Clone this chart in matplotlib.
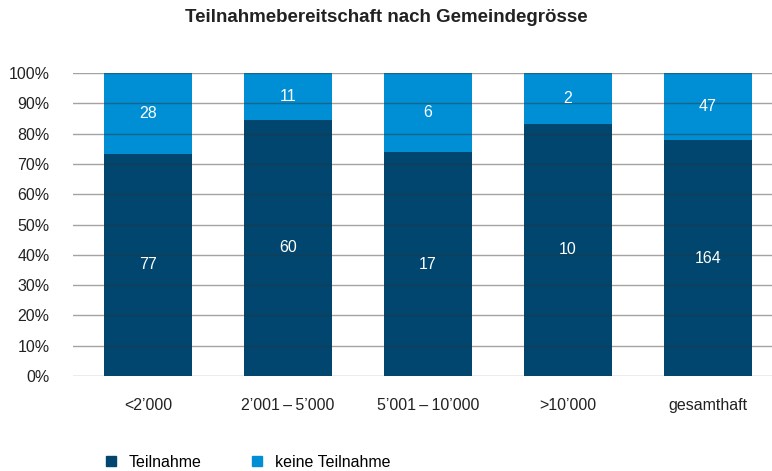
import numpy as np
import matplotlib.pyplot as plt
from matplotlib.lines import Line2D

plt.rcParams['font.family'] = ['Liberation Sans', 'DejaVu Sans']

# data
categories = ['<2\u2019000', '2\u2019001\u2009\u2013\u20095\u2019000', '5\u2019001\u2009\u2013\u200910\u2019000', '>10\u2019000', 'gesamthaft']
teilnahme = [77, 60, 17, 10, 164]
keine = [28, 11, 6, 2, 47]
yticks = [0, 10, 20, 30, 40, 50, 60, 70, 80, 90, 100]

dark = '#00466f'
light = '#008fd4'

t = np.array(teilnahme, dtype=float)
k = np.array(keine, dtype=float)
tot = t + k
pt = t / tot * 100
pk = k / tot * 100
x = np.arange(len(categories))

fig = plt.figure(figsize=(7.72, 4.71), dpi=100)
ax = fig.add_axes([0.0946, 0.2017, 0.9054, 0.6433])

ax.bar(x, pt, width=0.63, color=dark, zorder=1)
ax.bar(x, pk, width=0.63, bottom=pt, color=light, zorder=1)

for i in range(len(x)):
    ax.text(x[i], pt[i] / 2, str(teilnahme[i]), color='white', ha='center', va='center', fontsize=11.5, zorder=3)
    ax.text(x[i], pt[i] + pk[i] / 2, str(keine[i]), color='white', ha='center', va='center', fontsize=11.5, zorder=3)

for v in yticks:
    ax.axhline(v, color='#333333', lw=1, alpha=0.45, zorder=2)

ax.set_xlim(-0.536, 4.457)
ax.set_ylim(0, 100)
ax.set_yticks(yticks)
ax.set_yticklabels([f'{v}%' for v in yticks], fontsize=11.5, color='#222222')
ax.set_xticks(x)
ax.set_xticklabels(categories, fontsize=11.5, color='#222222')
ax.tick_params(axis='y', length=0, pad=17)
ax.tick_params(axis='x', length=0, pad=16)
for s in ax.spines.values():
    s.set_visible(False)

fig.text(0.5, 0.962, 'Teilnahmebereitschaft nach Gemeindegr\u00f6sse', ha='center', va='center',
         fontsize=13.5, fontweight='bold', color='#222222')

handles = [Line2D([], [], marker='s', color=dark, ls='none', markersize=7),
           Line2D([], [], marker='s', color=light, ls='none', markersize=7)]
fig.legend(handles, ['Teilnahme', 'keine Teilnahme'], loc='center left', bbox_to_anchor=(0.125, 0.019),
           ncol=2, frameon=False, fontsize=11.5, handletextpad=0.6, columnspacing=3.0, handlelength=1.0,
           borderaxespad=0)

fig.savefig('out.png', dpi=100)
